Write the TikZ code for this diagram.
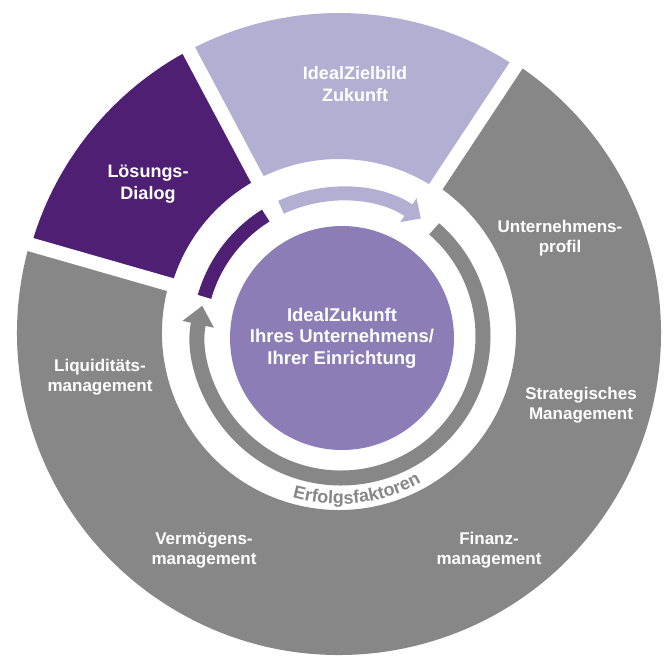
\documentclass[tikz,border=0pt]{standalone}
\usepackage{fontspec}
\setmainfont{Liberation Sans}
\usetikzlibrary{arrows.meta,decorations.text}
\definecolor{ringgrau}{HTML}{878787}
\definecolor{dunkellila}{HTML}{4F1F74}
\definecolor{helllila}{HTML}{B3AFD3}
\definecolor{kernlila}{HTML}{8C7DB7}

\begin{document}
\begin{tikzpicture}[x=1pt,y=1pt,
    seglabel/.style={text=white,align=center,font=\fontsize{18}{22}\selectfont\bfseries},
    feldlabel/.style={text=white,align=center,font=\fontsize{17}{20}\selectfont\bfseries}]
    \useasboundingbox (-339,-324) rectangle (327,333);
    % Ring mit drei Segmenten
    \fill[ringgrau] (56.5:322) arc[start angle=56.5,end angle=-196,radius=322] -- (-196:177) arc[start angle=-196,end angle=56.5,radius=177] -- cycle;
    \fill[helllila] (56.5:320) arc[start angle=56.5,end angle=118,radius=320] -- (118:174) arc[start angle=118,end angle=56.5,radius=174] -- cycle;
    \fill[dunkellila] (118:320) arc[start angle=118,end angle=164,radius=320] -- (164:174) arc[start angle=164,end angle=118,radius=174] -- cycle;
    \foreach \w in {56.5,118,164}
        \draw[white,line width=14] (\w:165) -- (\w:330);
    % Kreis in der Mitte
    \node[circle,fill=kernlila,minimum size=224,inner sep=0,text=white,align=center,font=\fontsize{18.5}{21.5}\selectfont\bfseries] (kern) at (3,-5) {IdealZukunft\\Ihres Unternehmens/\\Ihrer Einrichtung};
    % Pfeile um den Kreis
    \begin{scope}[shift={(2,-3)}]
        \draw[helllila,line width=14,-{Triangle[length=15pt,width=28pt]}] (115:142) arc[start angle=115,end angle=55.8,radius=142];
        \draw[dunkellila,line width=14] (164:142) arc[start angle=164,end angle=122,radius=142];
        \draw[ringgrau,line width=15,-{Triangle[length=19pt,width=31pt]}] (49:142) arc[start angle=49,end angle=-192.3,radius=142];
    \end{scope}
    \path[decorate,decoration={text along path,text align=center,text color=ringgrau,
        text={|\fontsize{18}{18}\selectfont\bfseries|Erfolgsfaktoren}}]
        (240:171) arc[start angle=240,end angle=313,radius=171];
    % Beschriftungen
    \node[seglabel] (zielbild) at (16,249) {IdealZielbild\\Zukunft};
    \node[seglabel] (dialog) at (-191,149) {Lösungs-\\Dialog};
    \node[feldlabel] (profil) at (221,95) {Unternehmens-\\profil};
    \node[feldlabel] (strategie) at (242,-72) {Strategisches\\Management};
    \node[feldlabel] (finanz) at (150,-217) {Finanz-\\management};
    \node[feldlabel] (vermoegen) at (-135,-217) {Vermögens-\\management};
    \node[feldlabel] (liquiditaet) at (-239,-44) {Liquiditäts-\\management};
\end{tikzpicture}
\end{document}
